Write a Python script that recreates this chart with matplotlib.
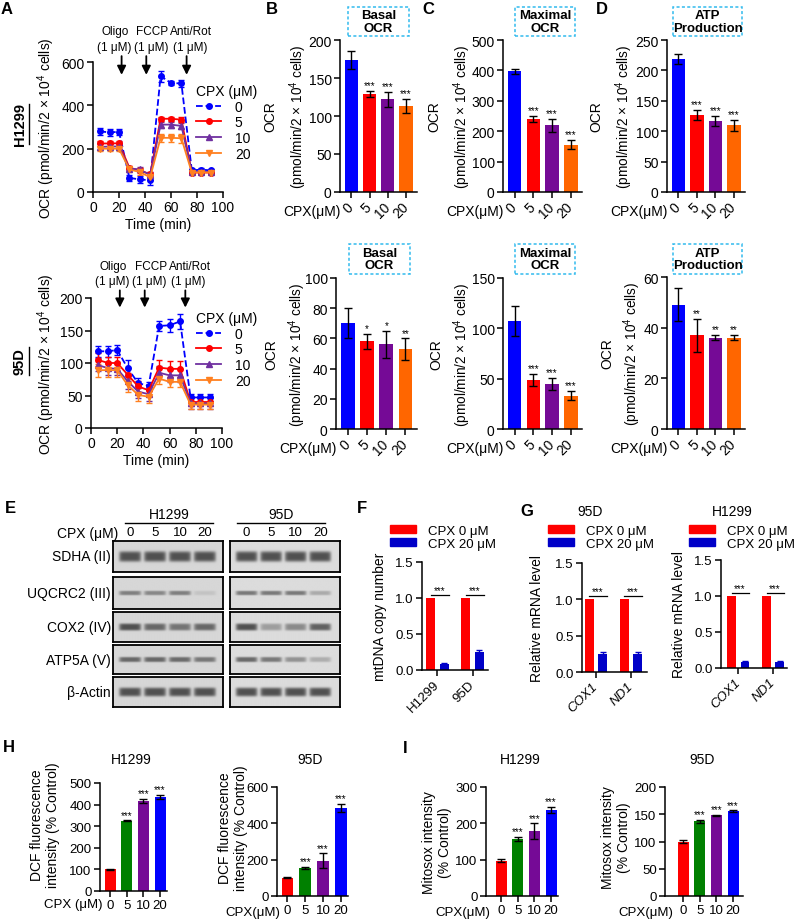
import numpy as np
import matplotlib
matplotlib.use("Agg")
import matplotlib.pyplot as plt
from matplotlib.lines import Line2D
from matplotlib.patches import Patch, Rectangle

plt.rcParams['font.family'] = ['Liberation Sans', 'DejaVu Sans']
plt.rcParams['mathtext.fontset'] = 'custom'
plt.rcParams['mathtext.rm'] = 'Liberation Sans'
plt.rcParams['mathtext.it'] = 'Liberation Sans:italic'

# ---------------- data ----------------
doses = ['0', '5', '10', '20']
time_min = [5, 13, 20, 28, 36, 44, 52, 60, 68, 76, 83, 91]

ocr_h1299 = {'0': [280, 275, 278, 65, 58, 54, 535, 503, 501, 100, 103, 100],
             '5': [224, 224, 225, 112, 100, 82, 338, 338, 334, 90, 90, 90],
             '10': [208, 210, 210, 108, 104, 78, 311, 311, 305, 92, 92, 92],
             '20': [200, 200, 200, 104, 92, 68, 250, 250, 248, 90, 90, 90]}
err_h1299 = {'0': [15, 15, 15, 15, 15, 20, 25, 10, 15, 8, 6, 6],
             '5': [10, 10, 10, 10, 10, 12, 10, 10, 10, 6, 6, 6],
             '10': [12, 12, 12, 12, 12, 14, 14, 14, 14, 6, 6, 6],
             '20': [12, 12, 12, 12, 12, 14, 20, 20, 20, 6, 6, 6]}
ocr_95d = {'0': [118, 118, 120, 92, 69, 65, 157, 158, 164, 47, 47, 47],
           '5': [105, 100, 100, 82, 64, 58, 93, 91, 91, 40, 40, 40],
           '10': [97, 92, 91, 72, 56, 52, 85, 81, 81, 38, 38, 38],
           '20': [89, 89, 89, 66, 51, 48, 76, 71, 71, 36, 36, 36]}
err_95d = {'0': [8, 8, 8, 12, 8, 6, 8, 10, 12, 5, 5, 5],
           '5': [10, 10, 10, 10, 8, 8, 12, 12, 12, 6, 6, 6],
           '10': [10, 10, 10, 12, 10, 10, 10, 10, 10, 8, 8, 8],
           '20': [10, 10, 10, 10, 10, 10, 8, 8, 8, 6, 6, 6]}
injections = ['Oligo', 'FCCP', 'Anti/Rot']
inj_time = [22, 41, 72]
inj_text_time = [17, 45.5, 75.5]

basal_h1299 = [174, 129, 122, 113]; basal_h1299_err = [12, 3.5, 9.5, 9.5]
maximal_h1299 = [397, 239, 219, 155]; maximal_h1299_err = [9, 10, 21, 15]
atp_h1299 = [219, 127, 117, 110]; atp_h1299_err = [8, 8, 8, 9]
basal_95d = [70, 58, 56, 53]; basal_95d_err = [10, 5, 9, 7]
maximal_95d = [107, 49, 45, 33]; maximal_95d_err = [15, 6, 6, 4.5]
atp_95d = [49, 37, 36, 36]; atp_95d_err = [6.5, 6.5, 1, 1]

blot_rows = ['SDHA (II)', 'UQCRC2 (III)', 'COX2 (IV)', 'ATP5A (V)', 'β-Actin']
band_h1299 = [[0.85, 0.85, 0.85, 0.85],
              [0.55, 0.50, 0.55, 0.12],
              [0.85, 0.70, 0.62, 0.70],
              [0.70, 0.70, 0.68, 0.60],
              [0.85, 0.85, 0.85, 0.85]]
band_95d = [[0.85, 0.85, 0.85, 0.85],
            [0.60, 0.60, 0.60, 0.30],
            [0.85, 0.38, 0.50, 0.75],
            [0.70, 0.60, 0.45, 0.28],
            [0.85, 0.85, 0.85, 0.85]]
band_height = [0.34, 0.14, 0.24, 0.18, 0.30]

mtdna_groups = ['H1299', '95D']
mtdna_ctrl = [1.0, 1.0]; mtdna_cpx = [0.09, 0.25]; mtdna_cpx_err = [0.01, 0.03]
genes = ['COX1', 'ND1']
mrna_95d_ctrl = [1.0, 1.0]; mrna_95d_cpx = [0.25, 0.25]; mrna_95d_err = [0.03, 0.02]
mrna_h1299_ctrl = [1.0, 1.0]; mrna_h1299_cpx = [0.09, 0.09]; mrna_h1299_err = [0.01, 0.01]

dcf_h1299 = [100, 325, 418, 436]; dcf_h1299_err = [2, 3, 10, 10]
dcf_95d = [100, 155, 195, 485]; dcf_95d_err = [3, 5, 40, 22]
mitosox_h1299 = [97, 157, 178, 237]; mitosox_h1299_err = [4, 6, 22, 8]
mitosox_95d = [100, 137, 148, 156]; mitosox_95d_err = [2, 3, 1, 1.5]

BLUE, RED, PURPLE, ORANGE = '#0000ff', '#ff0000', '#750a96', '#ff6600'
GREEN, NAVY = '#008000', '#0000c8'
line_colors = ['#0000ff', '#ff0000', '#7030a0', '#ff8020']
line_markers = ['o', 'o', '^', 'v']
line_styles = ['--', '-', '-', '-']

# ---------------- helpers ----------------
W, H = 797, 920
fig = plt.figure(figsize=(W / 100, H / 100), dpi=100)


def box(x0, y0, x1, y1):
    return fig.add_axes([x0 / W, 1 - y1 / H, (x1 - x0) / W, (y1 - y0) / H])


def ftext(x, y, s, **kw):
    kw.setdefault('ha', 'center')
    kw.setdefault('va', 'center')
    return fig.text(x / W, 1 - y / H, s, **kw)


def fline(xs, ys, **kw):
    fig.add_artist(Line2D([x / W for x in xs], [1 - y / H for y in ys], **kw))


def style(ax, size=10):
    for s in ['top', 'right']:
        ax.spines[s].set_visible(False)
    for s in ['left', 'bottom']:
        ax.spines[s].set_linewidth(1.1)
    ax.tick_params(direction='out', length=4, width=1.1, labelsize=size, pad=2)


def bars(b, vals, errs, colors, ylim, yticks, xlim, width, stars, size=10):
    ax = box(*b)
    x = np.arange(len(vals))
    ax.bar(x, vals, width=width, color=colors)
    ax.errorbar(x, vals, yerr=errs, fmt='none', ecolor='k', elinewidth=1, capsize=3, capthick=1)
    for xi, v, e, s in zip(x, vals, errs, stars):
        if s:
            ax.text(xi, v + e + ylim[1] * 0.005, s, ha='center', va='bottom', fontsize=7)
    ax.set_xlim(*xlim)
    ax.set_ylim(*ylim)
    ax.set_yticks(yticks)
    ax.set_xticks(x)
    style(ax, size)
    return ax


def title_box(x0, y0, x1, y1, s):
    fig.add_artist(Rectangle((x0 / W, 1 - y1 / H), (x1 - x0) / W, (y1 - y0) / H,
                             fill=False, ec='#33bbee', ls=(0, (2, 1.5)), lw=1.1))
    ftext((x0 + x1) / 2, (y0 + y1) / 2, s, fontsize=9.5, fontweight='bold', linespacing=1.05)


# ---------------- panel A ----------------
def seahorse(b, data, errs, ylim, yticks, txt_y, arrow_y, leg_y):
    ax = box(*b)
    for d, c, m, ls in zip(doses, line_colors, line_markers, line_styles):
        ax.errorbar(time_min, data[d], yerr=errs[d], color=c, marker=m, ls=ls, ms=4,
                    lw=1.3, elinewidth=1, capsize=2)
    ax.set_xlim(0, 100)
    ax.set_ylim(*ylim)
    ax.set_yticks(yticks)
    ax.set_xticks([0, 20, 40, 60, 80, 100])
    style(ax)
    ax.set_xlabel('Time (min)', fontsize=10, labelpad=2)
    for name, t, tt in zip(injections, inj_time, inj_text_time):
        ax.text(tt, txt_y[0], name, ha='center', va='center', fontsize=8.5, clip_on=False)
        ax.text(tt - 1, txt_y[1], '(1 μM)', ha='center', va='center', fontsize=8.5, clip_on=False)
        ax.annotate('', xy=(t, arrow_y[1]), xytext=(t, arrow_y[0]), annotation_clip=False,
                    arrowprops=dict(arrowstyle='-|>', color='k', lw=1.3, mutation_scale=13))
    handles = [Line2D([], [], color=c, marker=m, ls=ls, ms=4, lw=1.3)
               for c, m, ls in zip(line_colors, line_markers, line_styles)]
    ax.legend(handles, doses, title='CPX (μM)', loc='upper left',
              bbox_to_anchor=(196 / W, 1 - leg_y / H), bbox_transform=fig.transFigure,
              frameon=False, fontsize=10, title_fontsize=10, handlelength=1.8,
              handletextpad=1.0, labelspacing=0.12, borderpad=0, borderaxespad=0,
              alignment='left')
    return ax


seahorse((93, 63, 223, 193), ocr_h1299, err_h1299, (0, 600), [0, 200, 400, 600],
         (743, 669), (640, 528), 85)
seahorse((91, 299, 222, 429), ocr_95d, err_95d, (0, 200), [0, 50, 100, 150, 200],
         (249, 226), (216, 181), 312)
ylab = 'OCR (pmol/min/2 × 10$^{4}$ cells)'
ftext(46, 128, ylab, rotation=90, fontsize=10)
ftext(46, 364, ylab, rotation=90, fontsize=10)
ftext(20, 125, 'H1299', rotation=90, fontsize=10.5, fontweight='bold')
fline([29, 29], [105, 145], color='k', lw=1)
ftext(20, 362, '95D', rotation=90, fontsize=10.5, fontweight='bold')
fline([29, 29], [348, 376], color='k', lw=1)

# ---------------- panels B-D ----------------
ocr_colors = [BLUE, RED, PURPLE, ORANGE]
top3 = ['', '***', '***', '***']
ocr_panels = [
    ((340, 41, 417, 193), basal_h1299, basal_h1299_err, (0, 200), np.arange(0, 201, 50), top3, 'Basal\nOCR', (348, 8, 409, 37), 270, 298),
    ((503, 41, 582, 193), maximal_h1299, maximal_h1299_err, (0, 500), np.arange(0, 501, 100), top3, 'Maximal\nOCR', (515, 8, 575, 37), 434, 462),
    ((667, 41, 745, 193), atp_h1299, atp_h1299_err, (0, 250), np.arange(0, 251, 50), top3, 'ATP\nProduction', (673, 8, 742, 37), 596, 624),
    ((336, 279, 417, 430), basal_95d, basal_95d_err, (0, 100), np.arange(0, 101, 20), ['', '*', '*', '**'], 'Basal\nOCR', (349, 245, 410, 275), 271, 297),
    ((503, 279, 582, 430), maximal_95d, maximal_95d_err, (0, 150), [0, 50, 100, 150], top3, 'Maximal\nOCR', (515, 245, 575, 275), 436, 462),
    ((667, 278, 745, 430), atp_95d, atp_95d_err, (0, 60), [0, 20, 40, 60], ['', '**', '**', '**'], 'ATP\nProduction', (673, 245, 742, 275), 607, 632),
]
for b, v, e, yl, yt, st, tt, tb, xo, xl in ocr_panels:
    ax = bars(b, v, e, ocr_colors, yl, yt, (-0.62, 3.6), 0.72, st)
    ax.set_xticklabels(doses, rotation=45, ha='right', va='center', rotation_mode='anchor')
    ax.tick_params(axis='x', pad=5)
    title_box(*tb, tt)
    yc = (b[1] + b[3]) / 2
    ftext(xo, yc, 'OCR', rotation=90, fontsize=10)
    ftext(xl, yc, '(pmol/min/2 × 10$^{4}$ cells)', rotation=90, fontsize=9.8)
    ftext(b[0] + 1, b[3] + 19, 'CPX(μM)', ha='right', fontsize=10)

# ---------------- panel E (western blots) ----------------
row_px = [(542, 573), (578, 610), (613, 643), (646, 675), (678, 708)]
blots = [((113, 223), (-0.68, 3.72), band_h1299, 0.84), ((230, 340), (-0.67, 3.8), band_95d, 0.86)]
for (x0, x1), (l0, l1), bands_, bg in blots:
    for r, ((y0, y1), h) in enumerate(zip(row_px, band_height)):
        ax = box(x0, y0, x1, y1)
        X, Y = np.meshgrid(np.linspace(l0, l1, 300), np.linspace(0, 1, 60))
        img = np.full(X.shape, bg)
        for i, a in enumerate(bands_[r]):
            img -= a * (bg - 0.22) * np.exp(-((X - i) / 0.44) ** 8) * np.exp(-((Y - 0.5) / (h / 2)) ** 4)
        ax.imshow(img, cmap='gray', vmin=0, vmax=1, extent=(l0, l1, 0, 1), aspect='auto',
                  interpolation='bilinear')
        ax.set_xlim(l0, l1)
        ax.set_yticks([])
        for s in ax.spines.values():
            s.set_linewidth(1.3)
        if r == 0:
            ax.xaxis.tick_top()
            ax.set_xticks(range(4))
            ax.set_xticklabels(doses)
            ax.tick_params(axis='x', length=0, pad=2, labelsize=9.5)
        else:
            ax.set_xticks([])
for (y0, y1), lab in zip(row_px, blot_rows):
    ftext(111, (y0 + y1) / 2, lab, ha='right', fontsize=10)
ftext(169, 515, 'H1299', fontsize=10)
fline([125, 213], [524, 524], color='k', lw=1)
ftext(281, 515, '95D', fontsize=10)
fline([237, 325], [524, 524], color='k', lw=1)
ftext(118, 534, 'CPX (μM)', ha='right', fontsize=10)


# ---------------- panels F, G ----------------
def paired(b, xlim, ctrl, cpx, err, labels, italic, leg_px, ylabel, ylab_x):
    ax = box(*b)
    g = np.arange(len(ctrl))
    ax.bar(g - 0.19, ctrl, width=0.25, color=RED)
    ax.bar(g + 0.19, cpx, width=0.25, color=NAVY)
    ax.errorbar(g + 0.19, cpx, yerr=err, fmt='none', ecolor=NAVY, elinewidth=1, capsize=2.5)
    for gi in g:
        ax.plot([gi - 0.19, gi + 0.32], [1.04, 1.04], color='k', lw=0.9)
        ax.text(gi + 0.05, 1.04, '***', ha='center', va='bottom', fontsize=7)
    ax.set_xlim(*xlim)
    ax.set_ylim(0, 1.5)
    ax.set_yticks([0, 0.5, 1.0, 1.5])
    ax.set_yticklabels(['0.0', '0.5', '1.0', '1.5'])
    ax.set_xticks(g)
    ax.set_xticklabels(labels, rotation=45, ha='right', va='center', rotation_mode='anchor',
                       fontstyle='italic' if italic else 'normal')
    style(ax, 9.5)
    ax.tick_params(axis='x', pad=5)
    ax.legend([Patch(color=RED), Patch(color=NAVY)], ['CPX 0 μM', 'CPX 20 μM'], loc='upper left',
              bbox_to_anchor=(leg_px[0] / W, 1 - leg_px[1] / H), bbox_transform=fig.transFigure,
              frameon=False, fontsize=9.5, handlelength=2.0, handleheight=0.55,
              handletextpad=0.9, labelspacing=0.05, borderpad=0, borderaxespad=0)
    ftext(ylab_x, (b[1] + b[3]) / 2, ylabel, rotation=90, fontsize=10)
    return ax


paired((422, 563, 488, 671), (-0.44, 1.44), mtdna_ctrl, mtdna_cpx, mtdna_cpx_err, mtdna_groups,
       False, (390, 526), 'mtDNA copy number', 380)
paired((582, 564, 647, 673), (-0.4, 1.46), mrna_95d_ctrl, mrna_95d_cpx, mrna_95d_err, genes,
       True, (548, 526), 'Relative mRNA level', 537)
paired((721, 561, 787, 669), (-0.5, 1.4), mrna_h1299_ctrl, mrna_h1299_cpx, mrna_h1299_err, genes,
       True, (689, 526), 'Relative mRNA level', 679)
ftext(590, 512, '95D', fontsize=10)
ftext(732, 512, 'H1299', fontsize=10)

# ---------------- panels H, I ----------------
ros_colors = [RED, GREEN, PURPLE, BLUE]
ros_panels = [
    ((100, 784, 167, 892), dcf_h1299, dcf_h1299_err, (0, 500), np.arange(0, 501, 100), (-0.6, 3.42), 'H1299', 'CPX (μM)', 102, 905, 'DCF fluorescence\nintensity (% Control)', 45, 825),
    ((277, 788, 348, 897), dcf_95d, dcf_95d_err, (0, 600), [0, 200, 400, 600], (-0.59, 3.4), '95D', 'CPX(μM)', 280, 913, 'DCF fluorescence\nintensity (% Control)', 233, 828),
    ((486, 788, 558, 897), mitosox_h1299, mitosox_h1299_err, (0, 300), [0, 100, 200, 300], (-0.9, 3.42), 'H1299', 'CPX(μM)', 490, 913, 'Mitosox intensity\n(% Control)', 437, 843),
    ((665, 788, 743, 897), mitosox_95d, mitosox_95d_err, (0, 200), np.arange(0, 201, 50), (-1.08, 3.6), '95D', 'CPX(μM)', 673, 913, 'Mitosox intensity\n(% Control)', 616, 838),
]
for b, v, e, yl, yt, xl, ttl, cpx, cx, cy, ylabel, lx, ly in ros_panels:
    ax = bars(b, v, e, ros_colors, yl, yt, xl, 0.66, top3, size=9.5)
    ax.set_xticklabels(doses)
    ftext((b[0] + b[2]) / 2 - 2, 760, ttl, fontsize=10)
    ftext(cx, cy, cpx, ha='right', fontsize=9.5)
    ftext(lx, ly, ylabel, rotation=90, fontsize=10, linespacing=1.15)

# ---------------- panel letters ----------------
for s, x, y in [('A', 7, 9), ('B', 272, 10), ('C', 428, 10), ('D', 602, 10), ('E', 10, 509),
                ('F', 362, 509), ('G', 527, 512), ('H', 9, 748), ('I', 405, 749)]:
    ftext(x, y, s, fontsize=12, fontweight='bold')

fig.savefig('out.png', dpi=100)
